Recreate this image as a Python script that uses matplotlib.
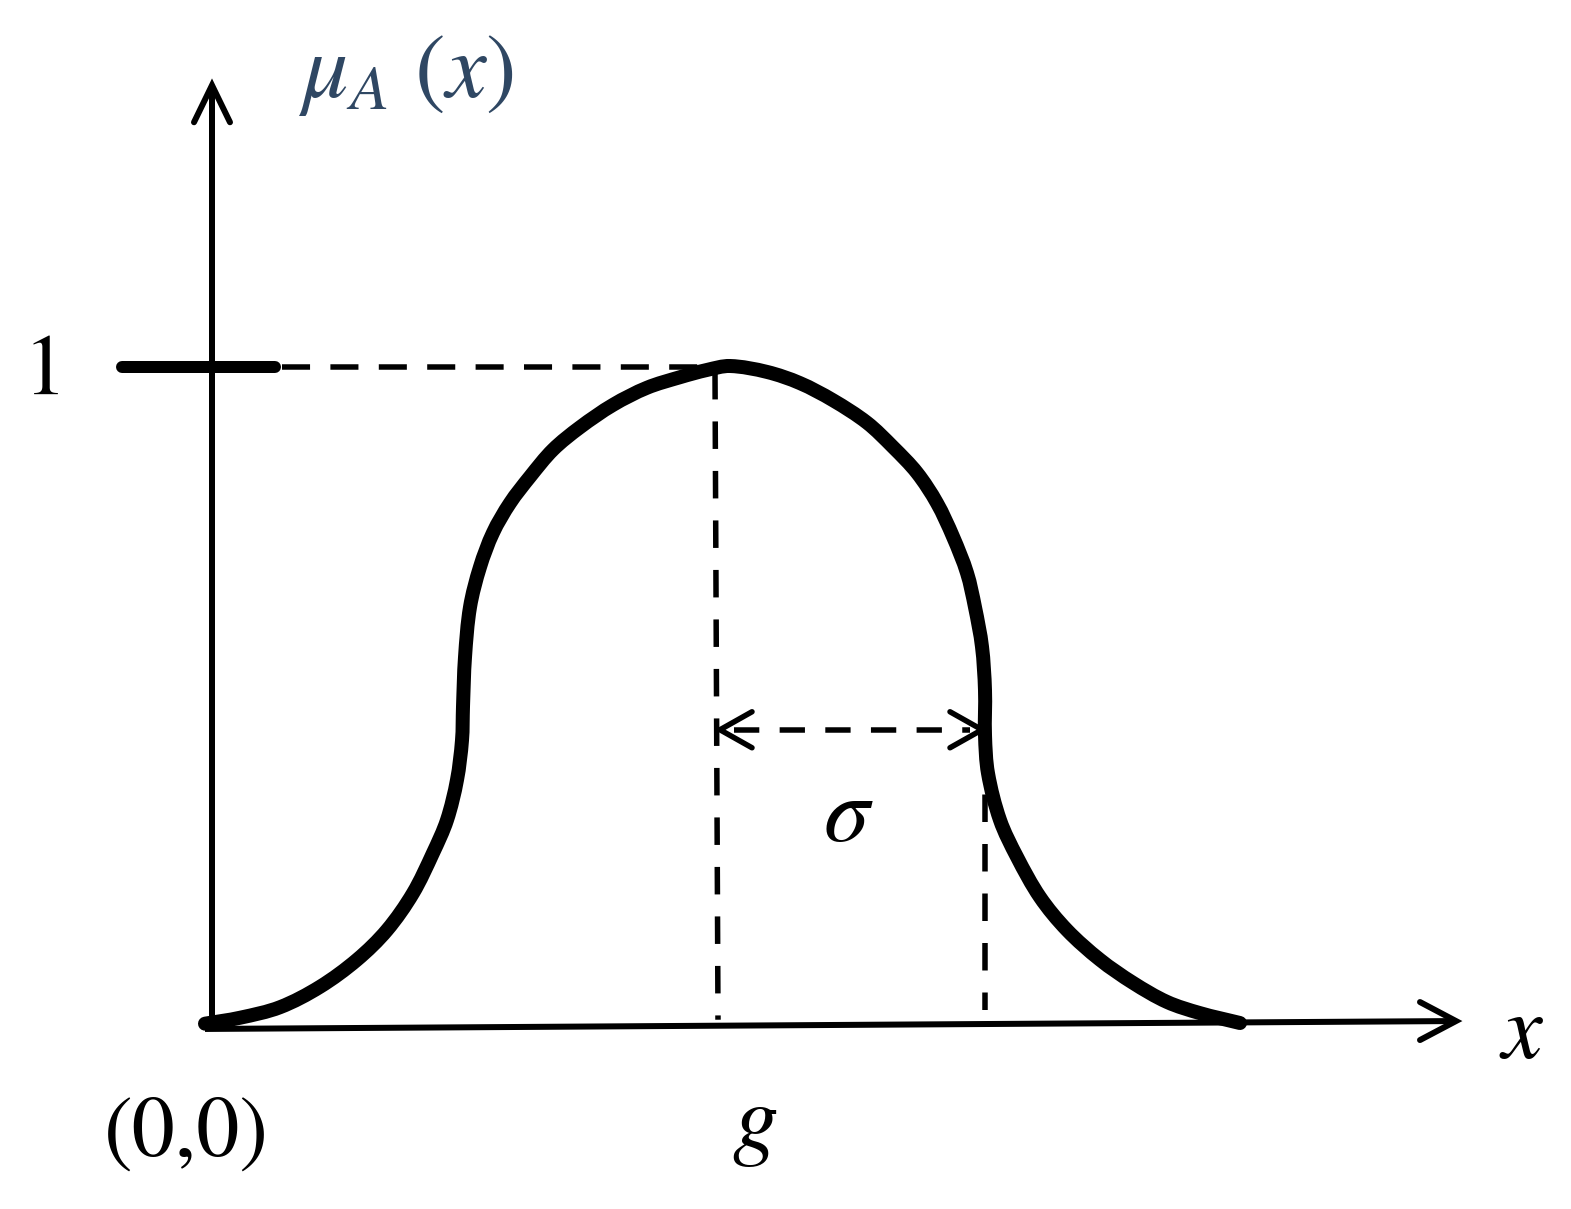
import matplotlib
matplotlib.use("Agg")
import matplotlib.pyplot as plt
from matplotlib.path import Path
from matplotlib.patches import PathPatch
import numpy as np

plt.rcParams['mathtext.fontset'] = 'stix'

# ---- data (x in diagram units, y = membership degree) ----
curve_x = [-0.05, 0.30, 0.70, 1.10, 1.47, 1.77, 2.03, 2.23, 2.37, 2.47, 2.52, 2.53,
           2.55, 2.60, 2.70, 2.83, 3.00, 3.20, 3.43, 3.70, 4.03, 4.37, 4.70, 4.97,
           5.20, 5.57, 5.90, 6.23, 6.57, 6.83, 7.07, 7.27, 7.43, 7.57, 7.65, 7.72,
           7.75, 7.75, 7.78, 7.90, 8.07, 8.30, 8.57, 8.90, 9.23, 9.57, 9.90, 10.30]
curve_y = [0.002, 0.011, 0.027, 0.058, 0.099, 0.144, 0.200, 0.261, 0.311, 0.372,
           0.432, 0.483, 0.558, 0.634, 0.695, 0.747, 0.792, 0.832, 0.873, 0.907,
           0.941, 0.967, 0.983, 0.994, 1.000, 0.991, 0.974, 0.948, 0.914, 0.877,
           0.838, 0.792, 0.741, 0.686, 0.634, 0.574, 0.508, 0.440, 0.382, 0.311,
           0.255, 0.194, 0.144, 0.099, 0.064, 0.035, 0.018, 0.003]

g_x = [5.05, 5.08]          # centre line (top, bottom)
g_y = [0.991, 0.008]
sigma_x = [7.75, 7.75]      # centre + sigma line
sigma_y = [0.425, 0.023]
arrow_x = [5.10, 7.72]      # sigma double arrow
arrow_y = 0.448
one_dash_x = [0.72, 4.90]   # dashed line at membership 1
one_y = 0.998
tick_x = [-0.88, 0.65]      # thick tick at 1
yaxis_x = [0.02, 0.02]
yaxis_y = [-0.005, 1.426]
xaxis_x = [-0.05, 12.46]
xaxis_y = [-0.006, 0.006]

labels = {"mu": r"$\mu_A\ (x)$", "one": "1", "origin": "(0,0)",
          "g": r"$g$", "sigma": r"$\sigma$", "x": r"$x$"}

# ---- figure ----
W, H, DPI = 1571, 1209, 100
PX_X, PX_Y = 100, 659          # pixels per data unit
fig = plt.figure(figsize=(W / DPI, H / DPI), dpi=DPI)
ax = fig.add_axes([0, 0, 1, 1])
ax.set_xlim(-210 / PX_X, (W - 210) / PX_X)
ax.set_ylim(-(H - 1025) / PX_Y, 1025 / PX_Y)
ax.axis('off')

ppx = 72 / DPI  # points per pixel
dlw = 5.5 * ppx
dash = (5.0, 4.0)

# axes lines
alw = 6.0 * ppx
ax.plot(yaxis_x, yaxis_y, color='black', lw=alw, solid_capstyle='butt')
ax.plot(xaxis_x, xaxis_y, color='black', lw=alw, solid_capstyle='butt')
# arrowheads (open chevrons)
ax.plot([yaxis_x[1] - 18 / PX_X, yaxis_x[1], yaxis_x[1] + 18 / PX_X],
        [yaxis_y[1] - 37 / PX_Y, yaxis_y[1], yaxis_y[1] - 37 / PX_Y],
        color='black', lw=alw, solid_joinstyle='miter', solid_capstyle='round')
ax.plot([xaxis_x[1] - 36 / PX_X, xaxis_x[1], xaxis_x[1] - 36 / PX_X],
        [xaxis_y[1] + 19 / PX_Y, xaxis_y[1], xaxis_y[1] - 19 / PX_Y],
        color='black', lw=alw, solid_joinstyle='miter', solid_capstyle='round')

# tick at 1
ax.plot(tick_x, [one_y, one_y], color='black', lw=12 * ppx, solid_capstyle='round')
# dashed reference lines
ax.plot(one_dash_x, [one_y, one_y], color='black', lw=dlw, dashes=(5.1, 3.7))
ax.plot(g_x, g_y, color='black', lw=dlw, dashes=dash)
ax.plot(sigma_x, sigma_y, color='black', lw=dlw, dashes=dash)
ax.plot([arrow_x[0] + 0.14, arrow_x[1] - 0.12], [arrow_y, arrow_y],
        color='black', lw=dlw, dashes=(4.6, 3.7))
for tip, s in ((arrow_x[0], 1), (arrow_x[1], -1)):
    ax.plot([tip + s * 32 / PX_X, tip, tip + s * 32 / PX_X],
            [arrow_y + 18 / PX_Y, arrow_y, arrow_y - 18 / PX_Y],
            color='black', lw=dlw, solid_capstyle='round')

# membership curve: smooth cubic Bezier through the read points
# (chord-length Catmull-Rom tangents, robust to uneven spacing)
pts = np.column_stack([curve_x, curve_y]) * [PX_X, PX_Y]   # isotropic space
n = len(pts)
d = np.linalg.norm(np.diff(pts, axis=0), axis=1)
tang = np.zeros_like(pts)
tang[0] = (pts[1] - pts[0]) / d[0]
tang[-1] = (pts[-1] - pts[-2]) / d[-1]
for i in range(1, n - 1):
    tang[i] = (pts[i + 1] - pts[i - 1]) / (d[i - 1] + d[i])
verts = [pts[0]]
codes = [Path.MOVETO]
for i in range(n - 1):
    c1 = pts[i] + tang[i] * d[i] / 3.0
    c2 = pts[i + 1] - tang[i + 1] * d[i] / 3.0
    verts += [c1, c2, pts[i + 1]]
    codes += [Path.CURVE4] * 3
verts = np.array(verts) / [PX_X, PX_Y]
ax.add_patch(PathPatch(Path(verts, codes), facecolor='none', edgecolor='black',
                       lw=14 * ppx, joinstyle='round', capstyle='round'))

# labels
ax.text(0.88, 1.445, labels["mu"], fontsize=66, color='#2F4763',
        ha='left', va='center')
ax.text(-1.65, one_y - 0.01, labels["one"], fontsize=62, family='STIXGeneral',
        ha='center', va='center')
ax.text(-0.24, -0.168, labels["origin"], fontsize=62, family='STIXGeneral',
        ha='center', va='center')
ax.text(5.45, -0.15, labels["g"], fontsize=66, ha='center', va='center')
ax.text(6.38, 0.318, labels["sigma"], fontsize=66, ha='center', va='center')
ax.text(13.12, -0.01, labels["x"], fontsize=66, ha='center', va='center')

fig.savefig("out.png", dpi=DPI)
